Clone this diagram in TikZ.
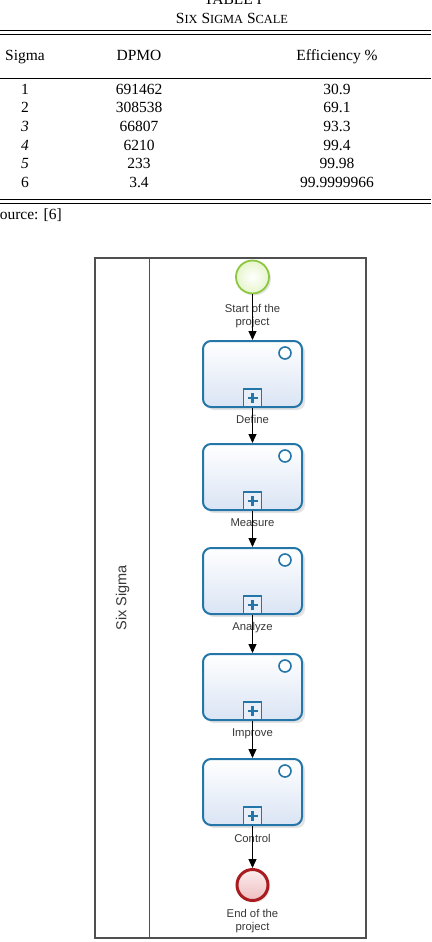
\documentclass[tikz,border=0pt]{standalone}
\usepackage{fontspec}
\usepackage{tikz}
\usepackage{xcolor}
\setmainfont{Liberation Serif}
\newfontfamily\bpmnfont{Liberation Sans}
\usetikzlibrary{positioning, arrows.meta, shadows}
\definecolor{taskblue}{RGB}{36, 118, 168}
\definecolor{taskfill}{RGB}{218, 228, 244}
\definecolor{startgreen}{RGB}{141, 198, 63}
\definecolor{startfill}{RGB}{230, 245, 204}
\definecolor{endred}{RGB}{168, 28, 32}
\definecolor{endfill}{RGB}{240, 188, 190}
\definecolor{poolgray}{RGB}{80, 80, 80}
\definecolor{labelgray}{RGB}{55, 55, 55}
\newcommand{\tabsc}[1]{{\fontsize{12.4}{15}\selectfont #1}}
\tikzset{
    tabtext/.style={anchor=base, inner sep=0pt, font=\fontsize{15.5}{18}\selectfont},
    rulethick/.style={line width=1.5pt},
    rulethin/.style={line width=0.8pt},
    pool/.style={rectangle, draw=poolgray, line width=1.3pt, minimum width=271pt, minimum height=680pt, inner sep=0pt},
    lanetext/.style={rotate=90, text=labelgray, font=\bpmnfont\fontsize{14.5}{16}\selectfont},
    lbl/.style={align=center, inner sep=0pt, text=labelgray, font=\bpmnfont\fontsize{11.3}{13}\selectfont},
    startnode/.style={circle, draw=startgreen, line width=1.8pt, minimum size=33pt, inner color=white, outer color=startfill, drop shadow={opacity=0.2, shadow xshift=2pt, shadow yshift=-2pt}},
    endnode/.style={circle, draw=endred, line width=3pt, minimum size=31pt, top color=endfill!25, bottom color=endfill, drop shadow={opacity=0.2, shadow xshift=2pt, shadow yshift=-2pt}},
    tasknode/.style={rectangle, rounded corners=8pt, draw=taskblue, line width=2pt, minimum width=99pt, minimum height=66pt, top color=white, bottom color=taskfill, drop shadow={opacity=0.22, shadow xshift=3pt, shadow yshift=-3pt},
        path picture={
            \draw[taskblue, line width=1.6pt, fill=white] ([xshift=-17pt, yshift=-12pt]path picture bounding box.north east) circle [radius=6pt];
            \draw[sharp corners, taskblue, line width=1.6pt, fill=taskfill!60] ([xshift=-9pt]path picture bounding box.south) rectangle ([xshift=9pt, yshift=18pt]path picture bounding box.south);
            \draw[sharp corners, taskblue, line width=2.6pt] ([xshift=-5pt, yshift=9pt]path picture bounding box.south) -- ([xshift=5pt, yshift=9pt]path picture bounding box.south)
                ([yshift=4pt]path picture bounding box.south) -- ([yshift=14pt]path picture bounding box.south);
        }},
    flow/.style={draw=black, line width=1.2pt, -{Triangle[length=9pt, width=8pt]}}
}

\begin{document}
\begin{tikzpicture}[x=1pt, y=-1pt]
    \useasboundingbox (0,0) rectangle (431,942);

    \node[tabtext] (tabno) at (233,5) {TABLE I};
    \node[tabtext] (tabtitle) at (232,24) {S\tabsc{IX} S\tabsc{IGMA} S\tabsc{CALE}};
    \draw[rulethick] (0,30.5) -- (431,30.5);
    \draw[rulethin] (0,34) -- (431,34);
    \node[tabtext] (hsigma) at (25,61) {Sigma};
    \node[tabtext] (hdpmo) at (139,61) {DPMO};
    \node[tabtext] (heff) at (337,61) {Efficiency \%};
    \draw[rulethin] (0,78) -- (431,78);
    \node[tabtext] (s1) at (25,94) {1};
    \node[tabtext] (d1) at (139,94) {691462};
    \node[tabtext] (e1) at (337,94) {30.9};
    \node[tabtext] (s2) at (25,112.5) {2};
    \node[tabtext] (d2) at (139,112.5) {308538};
    \node[tabtext] (e2) at (337,112.5) {69.1};
    \node[tabtext] (s3) at (25,131) {\textit{3}};
    \node[tabtext] (d3) at (139,131) {66807};
    \node[tabtext] (e3) at (337,131) {93.3};
    \node[tabtext] (s4) at (25,150) {\textit{4}};
    \node[tabtext] (d4) at (139,150) {6210};
    \node[tabtext] (e4) at (337,150) {99.4};
    \node[tabtext] (s5) at (25,168.5) {\textit{5}};
    \node[tabtext] (d5) at (139,168.5) {233};
    \node[tabtext] (e5) at (337,168.5) {99.98};
    \node[tabtext] (s6) at (25,187) {6};
    \node[tabtext] (d6) at (139,187) {3.4};
    \node[tabtext] (e6) at (337,187) {99.9999966};
    \draw[rulethin] (0,199.5) -- (431,199.5);
    \draw[rulethick] (0,203.5) -- (431,203.5);
    \node[tabtext, anchor=base west] (source) at (-9,219) {Source: [6]};

    \node[pool] (pool) at (230.5,598) {};
    \draw[poolgray, line width=1.3pt] ([xshift=55pt]pool.north west) -- ([xshift=55pt]pool.south west);
    \node[lanetext] (lane) at (122.5,598) {Six Sigma};

    \node[startnode] (start) at (252.5,277) {};
    \node[tasknode] (define) at (252.5,374) {};
    \node[tasknode] (measure) at (252.5,477) {};
    \node[tasknode] (analyze) at (252.5,581) {};
    \node[tasknode] (improve) at (252.5,687) {};
    \node[tasknode] (control) at (252.5,792) {};
    \node[endnode] (finish) at (252.5,885) {};

    \node[lbl, anchor=north] (startlbl) at (252.5,304) {Start of the\\project};
    \node[lbl, anchor=base] (definelbl) at (252.5,423) {Define};
    \node[lbl, anchor=base] (measurelbl) at (252.5,526) {Measure};
    \node[lbl, anchor=base] (analyzelbl) at (252.5,630) {Analyze};
    \node[lbl, anchor=base] (improvelbl) at (252.5,736) {Improve};
    \node[lbl, anchor=base] (controllbl) at (252.5,842) {Control};
    \node[lbl, anchor=north] (finishlbl) at (252.5,909) {End of the\\project};

    \draw[flow] (start) -- (define);
    \draw[flow] (define) -- (measure);
    \draw[flow] (measure) -- (analyze);
    \draw[flow] (analyze) -- (improve);
    \draw[flow] (improve) -- (control);
    \draw[flow] (control) -- (finish);
\end{tikzpicture}
\end{document}
